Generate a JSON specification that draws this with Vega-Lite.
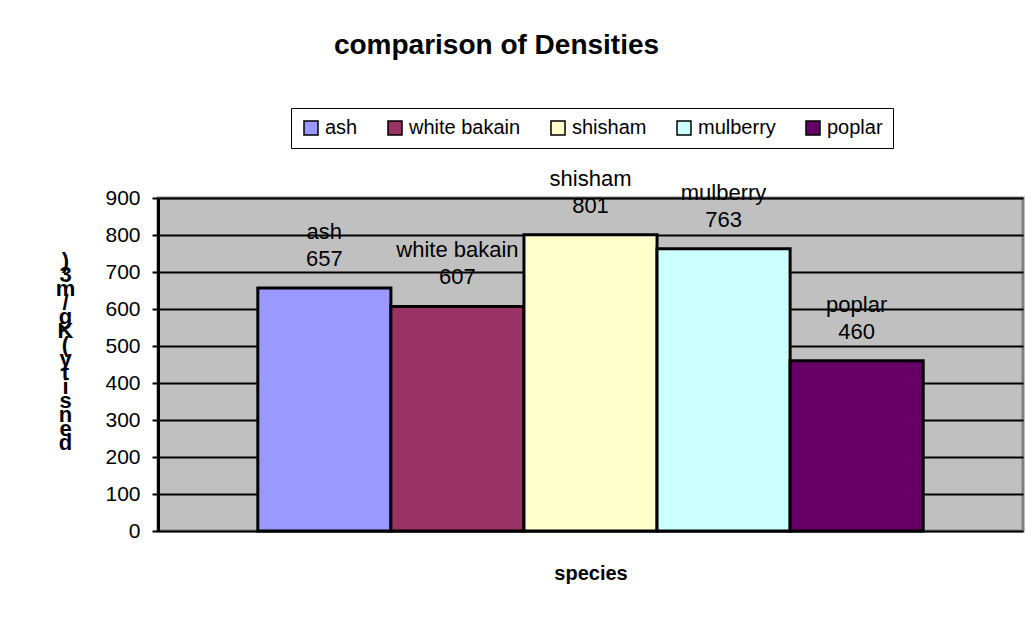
{
  "$schema": "https://vega.github.io/schema/vega-lite/v6.json",
  "autosize": {"type": "none"},
  "width": 865,
  "height": 333,
  "padding": {"left": 158, "top": 198, "right": 7, "bottom": 94},
  "background": "white",
  "config": {
    "font": "Liberation Sans",
    "view": {"fill": "#C0C0C0", "stroke": "#808080", "strokeWidth": 3}
  },
  "title": {
    "text": "comparison of Densities",
    "fontSize": 28,
    "fontWeight": "bold",
    "color": "black",
    "anchor": "middle",
    "frame": "group",
    "dx": -94,
    "offset": 20,
    "dy": -28
  },
  "data": {
    "values": [
      {"species": "ash", "density": 657},
      {"species": "white bakain", "density": 607},
      {"species": "shisham", "density": 801},
      {"species": "mulberry", "density": 763},
      {"species": "poplar", "density": 460}
    ]
  },
  "encoding": {
    "x": {
      "field": "species",
      "type": "nominal",
      "sort": null,
      "scale": {"paddingInner": 0, "paddingOuter": 0.75},
      "axis": {
        "labels": false,
        "ticks": false,
        "domain": false,
        "title": "species",
        "titleFontSize": 20,
        "titleFontWeight": "bold",
        "titleColor": "black",
        "titlePadding": 32
      }
    },
    "y": {
      "field": "density",
      "type": "quantitative",
      "scale": {"domain": [0, 900], "nice": false},
      "axis": {
        "values": [0, 100, 200, 300, 400, 500, 600, 700, 800, 900],
        "grid": true,
        "gridColor": "black",
        "gridWidth": 2,
        "gridOpacity": 1,
        "domainColor": "black",
        "domainWidth": 3,
        "tickColor": "black",
        "tickWidth": 2,
        "tickSize": 6,
        "labelFontSize": 21,
        "labelColor": "black",
        "labelPadding": 12,
        "title": [")", "3", "m", "/", "g", "K", "(", "y", "t", "i", "s", "n", "e", "d"],
        "titleAngle": 0,
        "titleFontSize": 22,
        "titleFontWeight": "bold",
        "titleColor": "black",
        "titleLineHeight": 14,
        "titleAlign": "center",
        "titleBaseline": "top",
        "titleX": -93,
        "titleY": 52
      }
    }
  },
  "layer": [
    {
      "mark": {"type": "bar", "stroke": "black", "strokeWidth": 3},
      "encoding": {
        "color": {
          "field": "species",
          "type": "nominal",
          "sort": null,
          "scale": {
            "domain": ["ash", "white bakain", "shisham", "mulberry", "poplar"],
            "range": ["#9999FF", "#993366", "#FFFFCC", "#CCFFFF", "#660066"]
          },
          "legend": {
            "title": null,
            "orient": "none",
            "direction": "horizontal",
            "legendX": 133,
            "legendY": -90,
            "strokeColor": "black",
            "fillColor": "white",
            "padding": 10,
            "symbolType": "square",
            "symbolSize": 196,
            "symbolStrokeColor": "black",
            "symbolStrokeWidth": 1.5,
            "symbolOpacity": 1,
            "labelFontSize": 20,
            "labelColor": "black",
            "labelOffset": 4,
            "columnPadding": 27
          }
        }
      }
    },
    {
      "mark": {"type": "text", "baseline": "bottom", "dy": -17, "fontSize": 22, "color": "black"},
      "encoding": {"text": {"field": "density", "type": "quantitative"}}
    },
    {
      "mark": {"type": "text", "baseline": "bottom", "dy": -44, "fontSize": 22, "color": "black"},
      "encoding": {"text": {"field": "species", "type": "nominal"}}
    }
  ]
}
